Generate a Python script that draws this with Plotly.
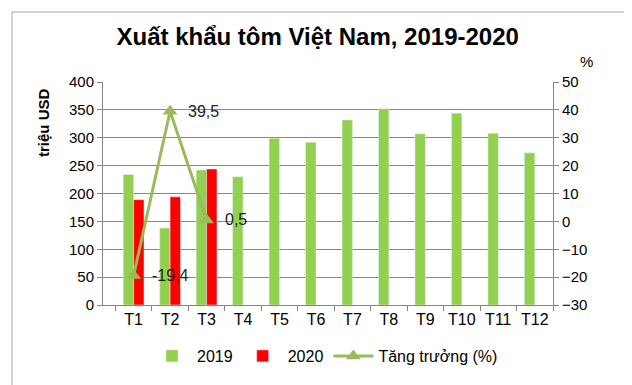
import plotly.graph_objects as go

months = ["T1", "T2", "T3", "T4", "T5", "T6", "T7", "T8", "T9", "T10", "T11", "T12"]
exports_2019 = [234, 138, 242, 230, 299, 292, 332, 352, 307, 344, 308, 273]
exports_2020 = [189, 194, 244, None, None, None, None, None, None, None, None, None]
growth_months = ["T1", "T2", "T3"]
growth_pct = [-19.4, 39.5, 0.5]

GREEN = "#92D050"
RED = "#FF0000"
OLIVE = "#9BBB59"
GRID = "#868686"
FONT = "Liberation Sans"

fig = go.Figure()
fig.add_trace(go.Bar(x=months, y=exports_2019, name="2019", marker_color=GREEN))
fig.add_trace(go.Bar(x=months, y=exports_2020, name="2020", marker_color=RED))
fig.add_trace(go.Scatter(
    x=growth_months, y=growth_pct, name="Tăng trưởng (%)", yaxis="y2",
    mode="lines+markers",
    line=dict(color=OLIVE, width=3),
    marker=dict(symbol="triangle-up", size=13, color=OLIVE),
))

for m, v in zip(growth_months, growth_pct):
    fig.add_annotation(
        x=m, y=v, xref="x", yref="y2",
        text=f"{v:.1f}".replace(".", ","),
        showarrow=False, xanchor="left", yanchor="middle", xshift=16,
        font=dict(family=FONT, size=16, color="#222"),
    )

fig.add_annotation(
    text="<b>triệu USD</b>", textangle=-90, showarrow=False,
    xref="paper", yref="paper", x=(35 - 95) / 450, y=(297 - 115) / 223,
    xanchor="center", yanchor="middle",
    font=dict(family=FONT, size=15, color="#000"),
)
fig.add_annotation(
    text="%", showarrow=False,
    xref="paper", yref="paper", x=(578 - 95) / 450, y=(297 - 54) / 223,
    xanchor="center", yanchor="middle",
    font=dict(family=FONT, size=15, color="#000"),
)

fig.add_shape(
    type="rect", xref="paper", yref="paper",
    x0=(4 - 95) / 450, x1=(627 - 95) / 450,
    y0=(297 - 381) / 223, y1=(297 - 4) / 223,
    line=dict(color="#A6A6A6", width=1), layer="below",
)

fig.update_layout(
    width=632, height=385,
    margin=dict(l=95, r=87, t=74, b=88),
    paper_bgcolor="white", plot_bgcolor="white",
    barmode="group", bargap=0.43, bargroupgap=0,
    title=dict(
        text="<b>Xuất khẩu tôm Việt Nam, 2019-2020</b>",
        x=0.49, xanchor="center", y=1 - 29 / 385, yanchor="middle",
        font=dict(family=FONT, size=24, color="#000"),
    ),
    font=dict(family=FONT, color="#000"),
    xaxis=dict(
        type="category", showline=True, linecolor=GRID, linewidth=1,
        ticks="outside", tickson="boundaries", ticklen=5, tickcolor=GRID,
        showgrid=False, tickangle=0,
        tickfont=dict(family=FONT, size=16, color="#000"),
    ),
    yaxis=dict(
        range=[0, 400], dtick=50, showline=True, linecolor=GRID,
        ticks="outside", ticklen=5, tickcolor=GRID,
        showgrid=True, gridcolor=GRID, gridwidth=1, zeroline=False,
        tickfont=dict(family=FONT, size=15, color="#000"),
    ),
    yaxis2=dict(
        range=[-30, 50], dtick=10, overlaying="y", side="right",
        showline=True, linecolor=GRID, ticks="outside", ticklen=5,
        tickcolor=GRID, showgrid=False, zeroline=False,
        tickfont=dict(family=FONT, size=15, color="#000"),
    ),
    legend=dict(
        orientation="h", x=(317 - 95) / 450, xanchor="center",
        y=(297 - 348) / 223, yanchor="middle",
        font=dict(family=FONT, size=16, color="#000"),
        traceorder="normal", itemwidth=40,
    ),
    showlegend=True,
)

fig.write_html("out.html")
